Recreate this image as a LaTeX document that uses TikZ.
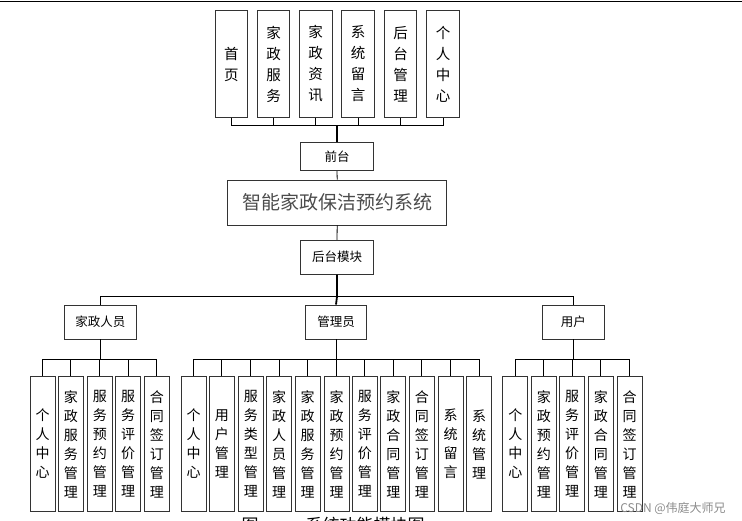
\documentclass[tikz,border=0pt]{standalone}
\usepackage{fontspec}
\setmainfont{Noto Sans CJK SC}
\begin{document}
\begin{tikzpicture}[x=1pt,y=-1pt,
  box/.style={draw=black!80,line width=0.9pt,inner sep=0pt,align=center},
  topbox/.style={box,minimum width=32.5pt,minimum height=106.5pt,font=\fontsize{14.5}{21}\selectfont},
  leaf/.style={box,minimum width=25pt,minimum height=135.5pt,font=\fontsize{14}{19}\selectfont},
  mid/.style={box,minimum height=34pt,font=\fontsize{12.5}{15}\selectfont},
  ln/.style={line width=0.8pt,black},
  thk/.style={line width=1.8pt,black}]
\useasboundingbox (0,0) rectangle (742,520);
\draw[line width=1pt] (0,1) -- (742,1);
% top boxes
\node[topbox] (t1) at (231.3,64) {首\\页};
\node[topbox] (t2) at (273.6,64) {家\\政\\服\\务};
\node[topbox] (t3) at (315.7,64) {家\\政\\资\\讯};
\node[topbox] (t4) at (358,64) {系\\统\\留\\言};
\node[topbox] (t5) at (400.5,64) {后\\台\\管\\理};
\node[topbox] (t6) at (443,64) {个\\人\\中\\心};
\node[box,minimum width=72.5pt,minimum height=28pt,font=\fontsize{12.5}{15}\selectfont] (qt) at (337,156.7) {前台};
\node[box,minimum width=219pt,minimum height=45pt,font=\fontsize{19}{22}\selectfont,text=black!70] (main) at (337.2,202.5) {智能家政保洁预约系统};
\node[box,minimum width=72.5pt,minimum height=34pt,font=\fontsize{12.5}{15}\selectfont] (ht) at (337,257.2) {后台模块};
\coordinate (bus0) at (337,125.7);
\foreach \i in {1,...,6} {\draw[ln] (t\i.south) -- (t\i.south |- bus0);}
\draw[ln] (t1.south |- bus0) -- (t6.south |- bus0);
\draw[thk] (bus0) -- (qt.north);
\draw[ln] (qt.south) -- (main.north);
\draw[ln] (main.south) -- (ht.north);
% second level
\node[mid,minimum width=72.5pt] (a) at (100.3,322) {家政人员};
\node[mid,minimum width=61.5pt] (b) at (336,322) {管理员};
\node[mid,minimum width=62pt] (c) at (573.3,322) {用户};
\coordinate (bus1) at (337,296.7);
\draw[thk] (ht.south) -- (bus1) -- (b.north);
\draw[ln] (a.north) -- (a.north |- bus1) -- (c.north |- bus1) -- (c.north);
% leaves of a
\node[leaf] (a1) at (42.5,444) {个\\人\\中\\心};
\node[leaf] (a2) at (70.8,444) {家\\政\\服\\务\\管\\理};
\node[leaf] (a3) at (99.8,444) {服\\务\\预\\约\\管\\理};
\node[leaf] (a4) at (128.2,444) {服\\务\\评\\价\\管\\理};
\node[leaf] (a5) at (156.8,444) {合\\同\\签\\订\\管\\理};
% leaves of b
\node[leaf] (b1) at (193.5,444) {个\\人\\中\\心};
\node[leaf] (b2) at (221.8,444) {用\\户\\管\\理};
\node[leaf] (b3) at (250.8,444) {服\\务\\类\\型\\管\\理};
\node[leaf] (b4) at (279.2,444) {家\\政\\人\\员\\管\\理};
\node[leaf] (b5) at (307.7,444) {家\\政\\服\\务\\管\\理};
\node[leaf] (b6) at (336.5,444) {家\\政\\预\\约\\管\\理};
\node[leaf] (b7) at (364.8,444) {服\\务\\评\\价\\管\\理};
\node[leaf] (b8) at (393.3,444) {家\\政\\合\\同\\管\\理};
\node[leaf] (b9) at (421.8,444) {合\\同\\签\\订\\管\\理};
\node[leaf] (b10) at (450.5,444) {系\\统\\留\\言};
\node[leaf] (b11) at (479.2,444) {系\\统\\管\\理};
% leaves of c
\node[leaf] (c1) at (515.3,444) {个\\人\\中\\心};
\node[leaf] (c2) at (543.8,444) {家\\政\\预\\约\\管\\理};
\node[leaf] (c3) at (572.2,444) {服\\务\\评\\价\\管\\理};
\node[leaf] (c4) at (600.8,444) {家\\政\\合\\同\\管\\理};
\node[leaf] (c5) at (629.5,444) {合\\同\\签\\订\\管\\理};
\coordinate (bus2) at (0,359.3);
% buses
\draw[ln] (a.south) -- (a.south |- bus2);
\draw[ln] (a1.north |- bus2) -- (a5.north |- bus2);
\foreach \i in {1,...,5} {\draw[ln] (a\i.north) -- (a\i.north |- bus2);}
\draw[ln] (b.south) -- (b.south |- bus2);
\draw[ln] (b1.north |- bus2) -- (b11.north |- bus2);
\foreach \i in {1,...,11} {\draw[ln] (b\i.north) -- (b\i.north |- bus2);}
\draw[ln] (c.south) -- (c.south |- bus2);
\draw[ln] (c1.north |- bus2) -- (c5.north |- bus2);
\foreach \i in {1,...,5} {\draw[ln] (c\i.north) -- (c\i.north |- bus2);}
% caption (cut off) and watermark
\node[font=\fontsize{17}{20}\selectfont] (cap1) at (250,525) {图};
\node[font=\fontsize{17}{20}\selectfont] (cap2) at (365,525) {系统功能模块图};
\node[font=\fontsize{12}{14}\selectfont,text=black!45] (wm) at (673,508) {CSDN @伟庭大师兄};
\end{tikzpicture}
\end{document}
